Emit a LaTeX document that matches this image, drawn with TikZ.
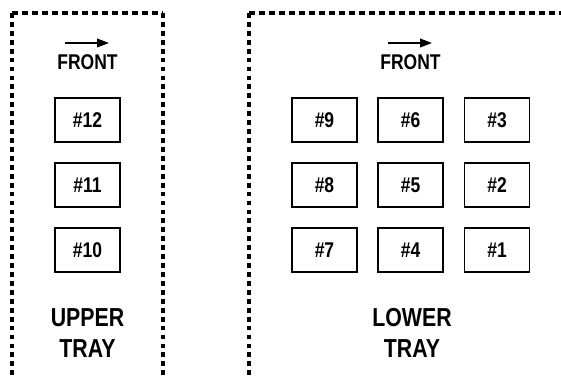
\documentclass[tikz,border=0pt]{standalone}
\usepackage{fontspec}
\setmainfont{Liberation Sans}[FakeStretch=0.82]
\usetikzlibrary{arrows.meta}

\tikzset{
	slot/.style = {draw, line width=1.1pt, minimum width=48.75pt, minimum height=33pt, inner sep=0pt, font=\bfseries\fontsize{16}{18}\selectfont},
	front/.style = {font=\bfseries\fontsize{16}{18}\selectfont, inner sep=0pt, anchor=base},
	tray/.style = {font=\bfseries\fontsize{19.5}{23.25}\selectfont, align=center, inner sep=0pt},
	rim/.style = {line width=2.3pt, dash pattern=on 4.5pt off 3pt},
	side/.style = {line width=2.3pt, dash pattern=on 3.6pt off 3.1pt}
}

\begin{document}
\begin{tikzpicture}[x=0.75pt, y=-0.75pt]
			\useasboundingbox (0,0) rectangle (561,377);
			%upper tray outline
			\draw[rim] (12,13) -- (163,13);
			\draw[side] (12,13) -- (12,377);
			\draw[side] (163,13) -- (163,377);
			%lower tray outline
			\draw[rim] (249,13) -- (561,13);
			\draw[side] (249,13) -- (249,377);
			%front arrows
			\coordinate (ua) at (65,43);
			\coordinate (ub) at (109,43);
			\coordinate (la) at (388,43);
			\coordinate (lb) at (432,43);
			\draw[-{Triangle[length=9pt, width=6.5pt]}, line width=1.3pt] (ua) -- (ub);
			\draw[-{Triangle[length=9pt, width=6.5pt]}, line width=1.3pt] (la) -- (lb);
			\node[front] (ufront) at (87.5,70) {FRONT};
			\node[front] (lfront) at (410.5,70) {FRONT};
			%upper slots
			\node[slot] (s12) at (87.5,120) {\#12};
			\node[slot] (s11) at (87.5,185) {\#11};
			\node[slot] (s10) at (87.5,250) {\#10};
			%lower slots
			\node[slot] (s9) at (324.5,120) {\#9};
			\node[slot] (s6) at (410.5,120) {\#6};
			\node[slot] (s3) at (497,120) {\#3};
			\node[slot] (s8) at (324.5,185) {\#8};
			\node[slot] (s5) at (410.5,185) {\#5};
			\node[slot] (s2) at (497,185) {\#2};
			\node[slot] (s7) at (324.5,250) {\#7};
			\node[slot] (s4) at (410.5,250) {\#4};
			\node[slot] (s1) at (497,250) {\#1};
			%tray names
			\node[tray] (upper) at (87.5,333) {UPPER\\TRAY};
			\node[tray] (lower) at (412,333) {LOWER\\TRAY};
\end{tikzpicture}
\end{document}
